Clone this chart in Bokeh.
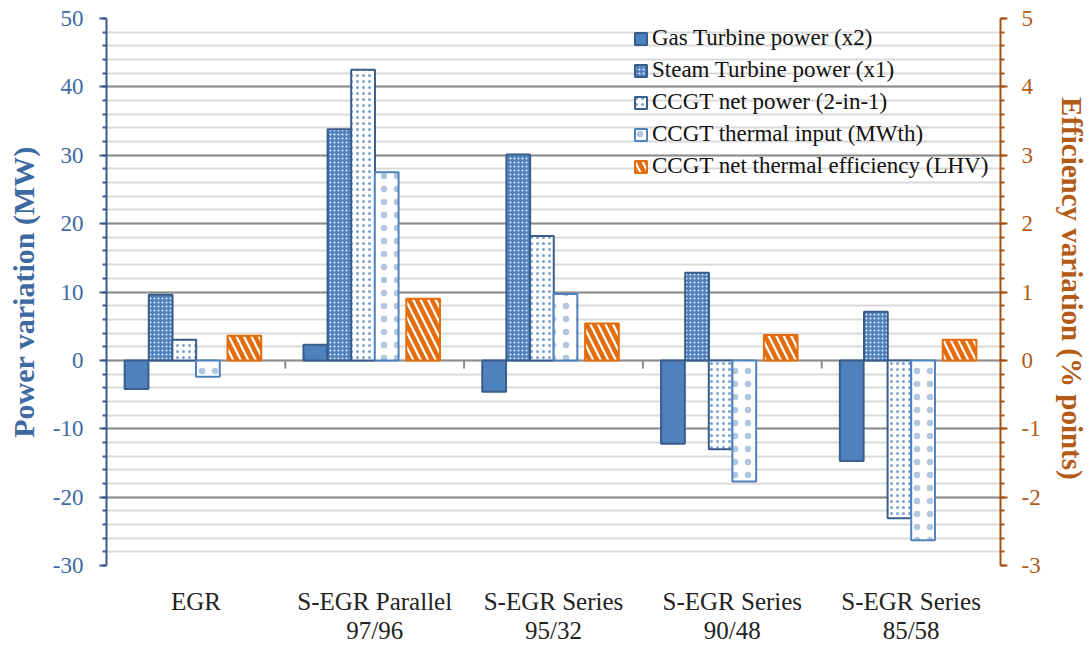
import numpy as np
from bokeh.plotting import figure
from bokeh.models import (Range1d, LinearAxis, SingleIntervalTicker, FixedTicker,
                          Legend, LegendItem, ColumnDataSource)
from bokeh.transform import dodge
from bokeh.embed import file_html
from bokeh.resources import INLINE

# ---------------- data ----------------
categories = ["EGR", "S-EGR Parallel\n97/96", "S-EGR Series\n95/32",
              "S-EGR Series\n90/48", "S-EGR Series\n85/58"]
gas_turbine = [-4.2, 2.3, -4.6, -12.2, -14.7]          # MW
steam_turbine = [9.6, 33.8, 30.1, 12.8, 7.1]           # MW
ccgt_net_power = [3.0, 42.5, 18.2, -13.0, -23.1]       # MW
ccgt_thermal_input = [-2.4, 27.5, 9.7, -17.7, -26.3]   # MWth
ccgt_efficiency = [0.36, 0.90, 0.54, 0.37, 0.30]       # % points
series_labels = ["Gas Turbine power (x2)", "Steam Turbine power (x1)",
                 "CCGT net power (2-in-1)", "CCGT thermal input (MWth)",
                 "CCGT net thermal efficiency (LHV)"]
left_ticks = [-30, -20, -10, 0, 10, 20, 30, 40, 50]
right_ticks = [-3, -2, -1, 0, 1, 2, 3, 4, 5]

# ---------------- styling ----------------
FONT = "Liberation Serif"
BLUE = "#4f81bd"
DBLUE = "#385d8a"
ORANGE = "#e46c0a"
LTXT = "#3d6aa2"
RTXT = "#b35a16"

x = np.arange(len(categories))
src = ColumnDataSource(dict(x=x, gas=gas_turbine, steam=steam_turbine,
                            net=ccgt_net_power, th=ccgt_thermal_input,
                            eff=ccgt_efficiency))

p = figure(output_backend="svg", toolbar_location=None,
           frame_width=894, frame_height=547,
           min_border_left=106, min_border_right=80,
           min_border_top=18, min_border_bottom=77,
           x_range=Range1d(-0.5, len(categories) - 0.5),
           y_range=Range1d(left_ticks[0], left_ticks[-1]),
           y_axis_location=None, x_axis_location=None)
p.outline_line_color = None
p.background_fill_color = "white"
p.extra_y_ranges = {"eff": Range1d(right_ticks[0], right_ticks[-1])}

# grid
p.xgrid.visible = False
p.ygrid.ticker = SingleIntervalTicker(interval=10, num_minor_ticks=5)
p.ygrid.grid_line_color = "#8c8c8c"
p.ygrid.grid_line_width = 2
p.ygrid.minor_grid_line_color = "#d9d9d9"
p.ygrid.minor_grid_line_width = 2

# left axis
lax = LinearAxis(ticker=SingleIntervalTicker(interval=10, num_minor_ticks=5),
                 axis_label="Power variation (MW)",
                 major_label_overrides={t: str(t) for t in left_ticks})
lax.axis_line_color = DBLUE
lax.axis_line_width = 2
lax.major_tick_line_color = DBLUE
lax.minor_tick_line_color = DBLUE
lax.major_tick_line_width = 2
lax.minor_tick_line_width = 2
lax.major_tick_out = 7
lax.major_tick_in = 0
lax.minor_tick_out = 4
lax.minor_tick_in = 0
lax.major_label_standoff = 16
lax.major_label_text_font = FONT
lax.major_label_text_font_size = "23px"
lax.major_label_text_color = LTXT
lax.axis_label_text_font = FONT
lax.axis_label_text_font_size = "30px"
lax.axis_label_text_font_style = "bold"
lax.axis_label_text_color = LTXT
lax.axis_label_standoff = 10
p.add_layout(lax, "left")

# right axis
rax = LinearAxis(y_range_name="eff",
                 ticker=SingleIntervalTicker(interval=1, num_minor_ticks=5),
                 axis_label="Efficiency  variation (% points)",
                 major_label_overrides={t: str(t) for t in right_ticks})
rax.axis_line_color = "#a5520f"
rax.axis_line_width = 2
rax.major_tick_line_color = "#a5520f"
rax.minor_tick_line_color = "#a5520f"
rax.major_tick_line_width = 2
rax.minor_tick_line_width = 2
rax.major_tick_out = 7
rax.major_tick_in = 0
rax.minor_tick_out = 4
rax.minor_tick_in = 0
rax.major_label_standoff = 14
rax.major_label_text_font = FONT
rax.major_label_text_font_size = "23px"
rax.major_label_text_color = RTXT
rax.axis_label_text_font = FONT
rax.axis_label_text_font_size = "29px"
rax.axis_label_text_font_style = "bold"
rax.axis_label_text_color = RTXT
rax.axis_label_standoff = 12
p.add_layout(rax, "right")

# bottom axis (category labels)
bax = LinearAxis(ticker=FixedTicker(ticks=list(x)),
                 major_label_overrides={int(i): c for i, c in zip(x, categories)})
bax.axis_line_color = None
bax.major_tick_line_color = None
bax.minor_tick_line_color = None
bax.major_label_standoff = 16
bax.major_label_text_font = FONT
bax.major_label_text_font_size = "25px"
bax.major_label_text_color = "#222222"
bax.major_label_text_line_height = 1.1
p.add_layout(bax, "below")

# category separator ticks on the zero line
bounds = x[:-1] + 0.5
p.segment(x0=bounds, x1=bounds, y0=0, y1=-1.2, line_color="#8c8c8c", line_width=2)

W = 0.133
r_gas = p.vbar(x=dodge("x", -0.332, range=p.x_range), top="gas", bottom=0, width=W,
               source=src, fill_color=BLUE, line_color=DBLUE, line_width=2)
r_steam = p.vbar(x=dodge("x", -0.197, range=p.x_range), top="steam", bottom=0, width=W,
                 source=src, fill_color=BLUE, line_color=DBLUE, line_width=2,
                 hatch_pattern="dot", hatch_color="white", hatch_scale=4,
                 hatch_alpha=0.9)
r_net = p.vbar(x=dodge("x", -0.065, range=p.x_range), top="net", bottom=0, width=W,
               source=src, fill_color="white", line_color=DBLUE, line_width=2,
               hatch_pattern="dot", hatch_color=BLUE, hatch_scale=6, hatch_alpha=0.75)
r_th = p.vbar(x=dodge("x", 0.067, range=p.x_range), top="th", bottom=0, width=W,
              source=src, fill_color="white", line_color=BLUE, line_width=2,
              hatch_pattern="dot", hatch_color=BLUE, hatch_scale=13, hatch_alpha=0.45)
r_eff = p.vbar(x=dodge("x", 0.271, range=p.x_range), top="eff", bottom=0, width=0.1885,
               source=src, y_range_name="eff", fill_color="white", line_color=ORANGE,
               line_width=2, hatch_pattern="left_diagonal_line", hatch_color=ORANGE,
               hatch_scale=15, hatch_weight=4.5)

legend = Legend(items=[LegendItem(label=l, renderers=[r]) for l, r in
                       zip(series_labels, [r_gas, r_steam, r_net, r_th, r_eff])],
                location=(527, 385), orientation="vertical",
                background_fill_alpha=0, border_line_color=None,
                label_text_font=FONT, label_text_font_size="23px",
                label_text_color="#111111", glyph_width=15, glyph_height=15,
                label_standoff=4, spacing=4, label_height=28, padding=0, margin=0)
p.add_layout(legend)

open("out.html", "w").write(file_html(p, INLINE))
